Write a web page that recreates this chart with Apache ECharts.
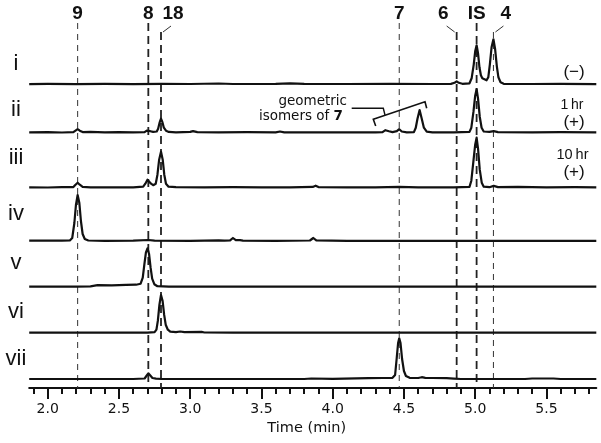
<!DOCTYPE html>
<html><head><meta charset="utf-8">
<script src="https://cdn.jsdelivr.net/npm/echarts@6/dist/echarts.min.js"></script>
<style>html,body{margin:0;padding:0;background:#fff}#c{width:601px;height:443px}</style>
</head><body><div id="c"></div>
<script>
// ---- data (time in min, relative detector signal) ----
const traceNames = ['i', 'ii', 'iii', 'iv', 'v', 'vi', 'vii'];

const trace_i = [[1.87,0.2],[2.0,0.4],[2.2,0.2],[2.4,0.5],[2.6,0.2],[2.8,0.4],[3.0,0.3],[3.2,0.8],[3.3,0.3],[3.6,0.5],[3.7,1.0],[3.8,0.4],[4.1,0.3],[4.4,0.5],[4.7,0.3],[4.83,0.4],[4.855,1.5],[4.87,3],[4.885,1.5],[4.91,0.5],[4.96,1],[4.975,6],[4.99,20],[5.0,33],[5.01,39],[5.02,31],[5.03,17],[5.04,9],[5.05,6],[5.065,5],[5.08,4],[5.092,7],[5.103,20],[5.115,37],[5.128,45],[5.14,35],[5.152,18],[5.163,7],[5.178,2],[5.2,0.5],[5.4,0.3],[5.6,0.4],[5.85,0.2]];

const trace_ii = [[1.87,0.3],[2.0,0.5],[2.1,0.2],[2.18,0.5],[2.195,2],[2.21,3.5],[2.225,2],[2.245,0.6],[2.3,0.8],[2.4,0.3],[2.5,0.5],[2.6,0.3],[2.68,0.5],[2.695,2],[2.706,3],[2.72,1.5],[2.74,0.8],[2.765,1.2],[2.775,4],[2.785,10],[2.795,14],[2.805,10.5],[2.815,5],[2.83,2],[2.85,0.8],[2.9,0.4],[3.0,0.8],[3.02,1.6],[3.05,0.6],[3.2,0.3],[3.4,0.5],[3.6,0.4],[3.63,1.2],[3.66,0.4],[3.9,0.3],[4.1,0.4],[4.3,0.3],[4.35,0.6],[4.37,2.5],[4.38,3],[4.395,1.5],[4.42,0.6],[4.45,1.5],[4.467,3.5],[4.485,1.2],[4.52,0.4],[4.57,0.6],[4.583,5],[4.595,14],[4.61,22.7],[4.625,14],[4.64,5],[4.66,1],[4.7,0.4],[4.85,0.3],[4.96,0.8],[4.973,5],[4.988,21],[5.0,37],[5.01,43.5],[5.02,34],[5.032,16],[5.045,5],[5.06,1.2],[5.1,0.8],[5.13,1.5],[5.16,0.6],[5.4,0.4],[5.6,0.6],[5.85,0.3]];

const trace_iii = [[1.87,0.3],[2.0,0.2],[2.1,0.5],[2.18,0.6],[2.195,3],[2.21,5],[2.225,3],[2.245,0.8],[2.3,0.4],[2.5,0.3],[2.6,0.4],[2.67,1],[2.685,4],[2.7,8],[2.712,7],[2.725,4],[2.74,2.5],[2.758,4],[2.77,13],[2.782,28],[2.795,36],[2.807,28],[2.818,13],[2.83,4],[2.848,1],[2.9,0.5],[3.1,0.3],[3.3,0.6],[3.5,0.3],[3.7,0.4],[3.86,0.8],[3.88,2],[3.9,0.6],[4.1,0.3],[4.3,0.3],[4.467,0.8],[4.6,0.3],[4.85,0.3],[4.96,0.8],[4.973,7],[4.988,27],[5.0,43],[5.01,50],[5.02,39],[5.032,18],[5.046,5],[5.06,1],[5.1,0.5],[5.13,1.8],[5.16,0.6],[5.3,0.8],[5.5,0.3],[5.7,0.5],[5.85,0.3]];

const trace_iv = [[1.87,0.3],[2.0,0.3],[2.1,0.4],[2.155,0.5],[2.172,3],[2.187,18],[2.198,36],[2.21,46],[2.222,38],[2.233,20],[2.245,7],[2.26,2],[2.285,0.5],[2.4,0.2],[2.6,0.3],[2.706,1],[2.75,0.3],[3.0,0.2],[3.2,0.6],[3.24,0.3],[3.28,0.6],[3.3,3],[3.32,0.8],[3.35,0.8],[3.37,0.3],[3.6,0.2],[3.84,0.5],[3.864,3],[3.885,0.6],[4.1,0.2],[4.5,0.2],[5.0,0.2],[5.5,0.2],[5.85,0.2]];

const trace_v = [[1.87,0],[2.2,0],[2.3,0.3],[2.35,1.5],[2.45,1.3],[2.55,1.8],[2.62,2],[2.652,3],[2.667,9],[2.678,22],[2.689,34],[2.7,38.4],[2.711,33],[2.722,19],[2.733,8],[2.748,2.5],[2.77,0.5],[2.85,0],[5.85,0]];

const trace_vi = [[1.87,0],[2.7,0],[2.75,0.5],[2.763,3],[2.773,12],[2.784,28],[2.795,37.7],[2.806,32],[2.817,18],[2.828,8],[2.843,3],[2.86,1],[2.9,0.6],[2.93,1.2],[2.96,0.5],[3.08,0.8],[3.1,0.2],[3.3,0],[5.85,0]];

const trace_vii = [[1.87,0],[2.6,0],[2.68,0.5],[2.695,3.5],[2.706,5.7],[2.72,3.5],[2.735,1],[2.76,0.4],[2.8,0],[3.8,0],[3.85,0.5],[4.0,0.2],[4.25,0.8],[4.35,1],[4.42,1.2],[4.438,4],[4.45,22],[4.459,36],[4.467,40.7],[4.476,36],[4.487,20],[4.5,8],[4.514,3],[4.54,1.2],[4.6,1],[4.625,1.8],[4.636,2],[4.65,1.2],[4.7,1],[4.8,0.8],[4.85,0.4],[4.9,0],[5.35,0],[5.4,0.5],[5.55,0.5],[5.6,0],[5.85,0]];

const traces = [trace_i, trace_ii, trace_iii, trace_iv, trace_v, trace_vi, trace_vii];

// reference retention times (dashed guide lines) and their labels
const refLabels = ['9', '8', '18', '7', '6', 'IS', '4'];
const refTimes = [2.21, 2.706, 2.795, 4.467, 4.87, 5.01, 5.128];
const refBold = [false, true, true, false, true, true, false];
const refLeader = [false, false, true, false, true, false, true];

const majorTicks = [2.0, 2.5, 3.0, 3.5, 4.0, 4.5, 5.0, 5.5];
const minorTicks = [1.9,2.0,2.1,2.2,2.3,2.4,2.5,2.6,2.7,2.8,2.9,3.0,3.1,3.2,3.3,3.4,3.5,3.6,3.7,3.8,3.9,4.0,4.1,4.2,4.3,4.4,4.5,4.6,4.7,4.8,4.9,5.0,5.1,5.2,5.3,5.4,5.5,5.6,5.7,5.8];

const xMin = 1.87, xMax = 5.85;

// ---- layout ----
const plotLeft = 29.2, plotWidth = 567.1;
const baselines = [84.3, 132.7, 187.7, 241, 286.7, 332.7, 379];
const traceGridH = 60;
const axisY = 388;
const INK = '#111';

const grids = [], xAxes = [], yAxes = [], series = [];
traces.forEach((d, k) => {
  grids.push({left: plotLeft, width: plotWidth, top: baselines[k] - traceGridH, height: traceGridH});
  xAxes.push({gridIndex: k, type: 'value', min: xMin, max: xMax, show: false});
  yAxes.push({gridIndex: k, type: 'value', min: 0, max: traceGridH, show: false});
  series.push({
    name: traceNames[k], type: 'line', xAxisIndex: k, yAxisIndex: k, data: d,
    showSymbol: false, symbol: 'none', clip: false, z: 5,
    lineStyle: {color: INK, width: 2.2, join: 'round'}, silent: true
  });
});

// overlay grid: full height, carries the time axis and guide lines
const OV = traces.length;
grids.push({left: plotLeft, width: plotWidth, top: 0, height: axisY});
xAxes.push({
  gridIndex: OV, type: 'value', min: xMin, max: xMax, position: 'bottom',
  axisLine: {show: true, onZero: false, lineStyle: {color: INK, width: 2}},
  axisTick: {show: true, customValues: majorTicks, length: 11, lineStyle: {color: INK, width: 2}},
  axisLabel: {customValues: majorTicks, formatter: v => v.toFixed(1), fontFamily: 'DejaVu Sans', fontSize: 14, color: INK, margin: 14},
  splitLine: {show: false},
  name: 'Time (min)', nameLocation: 'middle', nameGap: 31,
  nameTextStyle: {fontFamily: 'DejaVu Sans', fontSize: 14.5, color: INK, padding: [0, 12, 0, 0]}
});
yAxes.push({gridIndex: OV, type: 'value', min: 0, max: axisY, inverse: true, show: false});

// separate identical grid for the minor ticks (an axis per side per grid)
const MN = OV + 1;
grids.push({left: plotLeft, width: plotWidth, top: 0, height: axisY});
xAxes.push({
  gridIndex: MN, type: 'value', min: xMin, max: xMax, position: 'bottom',
  axisLine: {show: false, onZero: false},
  axisTick: {show: true, customValues: minorTicks, length: 6, lineStyle: {color: INK, width: 2}},
  axisLabel: {show: false}, splitLine: {show: false}
});
yAxes.push({gridIndex: MN, type: 'value', min: 0, max: axisY, inverse: true, show: false});

refTimes.forEach((t, i) => {
  const top = refLeader[i] ? 32 : 23;
  series.push({
    type: 'line', xAxisIndex: OV, yAxisIndex: OV, z: 1, silent: true,
    showSymbol: false, symbol: 'none',
    data: [[t, top], [t, axisY]],
    lineStyle: refBold[i] ? {color: '#222', width: 1.8, type: [8, 5]} : {color: '#333', width: 1, type: [6, 5]}
  });
});

const chart = echarts.init(document.getElementById('c'), null, {renderer: 'canvas'});
chart.setOption({
  animation: false,
  backgroundColor: '#fff',
  grid: grids, xAxis: xAxes, yAxis: yAxes, series: series
});

// ---- annotations ----
const px = t => chart.convertToPixel({xAxisIndex: OV}, t);
const labelDx = {'18': 12, '6': -13.5, '4': 12.4};
const g = [];
refTimes.forEach((t, i) => {
  const x = px(t);
  const lx = x + (labelDx[refLabels[i]] || 0);
  g.push({type: 'text', x: lx, y: 14, style: {text: refLabels[i], fontFamily: 'Liberation Sans', fontWeight: 'bold', fontSize: 19, fill: INK, align: 'center', verticalAlign: 'middle'}});
  if (refLeader[i]) {
    const dir = labelDx[refLabels[i]] > 0 ? 1 : -1;
    g.push({type: 'line', shape: {x1: x + dir * 2, y1: 32, x2: x + dir * 10, y2: 26}, style: {stroke: '#333', lineWidth: 1}});
  }
});
const rowY = [64, 110, 158, 214, 263, 312, 359];
traceNames.forEach((n, k) => {
  g.push({type: 'text', x: 16, y: rowY[k], style: {text: n, fontFamily: 'Liberation Sans', fontSize: 22, fill: INK, align: 'center', verticalAlign: 'middle'}});
});
const side = [
  {text: '(\u2212)', x: 574, y: 72, s: 17},
  {text: '1\u2009hr', x: 572, y: 105, s: 14},
  {text: '(+)', x: 574, y: 122, s: 17},
  {text: '10\u2009hr', x: 572.5, y: 155, s: 14.5},
  {text: '(+)', x: 574, y: 172, s: 17}
];
side.forEach(o => g.push({type: 'text', x: o.x, y: o.y, style: {text: o.text, fontFamily: 'Liberation Sans', fontSize: o.s, fill: INK, align: 'center', verticalAlign: 'middle'}}));
g.push({type: 'text', x: 347, y: 101.5, style: {text: 'geometric', fontFamily: 'DejaVu Sans', fontSize: 13.5, fill: INK, align: 'right', verticalAlign: 'middle'}});
g.push({type: 'text', x: 343, y: 116, style: {text: '{n|isomers of }{b|7}', align: 'right', verticalAlign: 'middle',
  rich: {n: {fontFamily: 'DejaVu Sans', fontSize: 13.5, fill: INK}, b: {fontFamily: 'DejaVu Sans', fontWeight: 'bold', fontSize: 13.5, fill: INK}}}});
g.push({type: 'polyline', shape: {points: [[351.7, 108.3], [383.3, 108.3], [385, 115]]}, style: {stroke: INK, lineWidth: 1.4, fill: null}});
g.push({type: 'polyline', shape: {points: [[375.7, 126], [373.3, 119.3], [425, 101.7], [426.7, 108.3]]}, style: {stroke: INK, lineWidth: 1.6, fill: null}});
chart.setOption({graphic: g});
</script>
</body></html>
